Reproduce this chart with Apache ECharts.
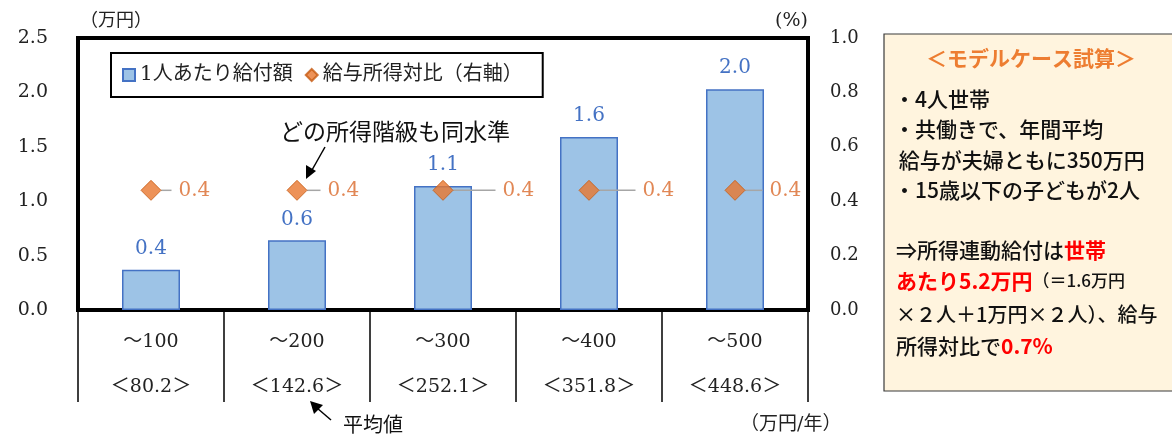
<!DOCTYPE html>
<html><head><meta charset="utf-8">
<script src="https://cdn.jsdelivr.net/npm/echarts@6/dist/echarts.min.js"></script>
<style>html,body{margin:0;padding:0;background:#fff}#c{width:1172px;height:437px}</style>
</head><body><div id="c"></div>
<script>
const categories = ['～100', '～200', '～300', '～400', '～500'];
const averages = ['80.2', '142.6', '252.1', '351.8', '448.6'];
const perPerson = [0.37, 0.64, 1.14, 1.59, 2.03];
const ratio = [0.44, 0.44, 0.44, 0.44, 0.44];
const seriesNames = ['1人あたり給付額', '給与所得対比（右軸）'];
const labelShift = [5, 8, 37, 31, 12];

const SERIF = '"DejaVu Serif", "Noto Sans CJK JP", serif';
const GOTH = '"Noto Sans CJK JP", sans-serif';

const chart = echarts.init(document.getElementById('c'), null, {renderer: 'canvas'});

function txt(x, y, rich, parts, extra) {
  return Object.assign({
    type: 'text', x: x, y: y,
    style: {text: parts, rich: rich, verticalAlign: 'middle', font: '21px ' + GOTH, fill: '#111'}
  }, extra || {});
}
const boxRich = {
  n: {fontSize: 21, fontFamily: GOTH, fill: '#111', fontWeight: 500},
  m: {fontSize: 20, fontFamily: GOTH, fill: '#111', fontWeight: 500},
  r: {fontSize: 21, fontFamily: GOTH, fill: '#FF0000', fontWeight: 'bold'},
  s: {fontSize: 17, fontFamily: GOTH, fill: '#111', fontWeight: 500}
};

const option = {
  animation: false,
  grid: {left: 78, right: 364, top: 38, bottom: 127, show: true, borderColor: '#000', borderWidth: 4, backgroundColor: 'transparent'},
  legend: {
    left: 111, top: 53, padding: [12, 20, 12, 11],
    borderColor: '#000', borderWidth: 2, itemGap: 12,
    itemWidth: 12, itemHeight: 12,
    data: [{name: seriesNames[0], icon: 'rect'}, {name: seriesNames[1], icon: 'diamond'}],
    formatter: function (name) { return name === seriesNames[0] ? '{a|' + name + '}' : '{b|' + name + '}'; },
    textStyle: {
      fontSize: 20, fontFamily: SERIF, color: '#222',
      rich: {a: {width: 165, fontSize: 20, fontFamily: SERIF, color: '#222'},
             b: {width: 200, fontSize: 20, fontFamily: SERIF, color: '#222'}}
    }
  },
  xAxis: {
    type: 'category', data: categories,
    axisLine: {show: true, lineStyle: {color: '#000', width: 4}},
    axisTick: {show: true, length: 92, lineStyle: {color: '#000', width: 1.5}},
    axisLabel: {
      margin: 10, interval: 0,
      formatter: function (v, i) { return '{a|' + v + '}\n{a|＜' + averages[i] + '＞}'; },
      rich: {a: {fontSize: 19, fontFamily: SERIF, color: '#222', lineHeight: 45}}
    }
  },
  yAxis: [
    {type: 'value', min: 0, max: 2.5, interval: 0.5,
     axisLine: {show: false}, axisTick: {show: false}, splitLine: {show: false},
     axisLabel: {margin: 30, fontSize: 19, fontFamily: SERIF, color: '#222', formatter: v => v.toFixed(1)}},
    {type: 'value', min: 0, max: 1, interval: 0.2,
     axisLine: {show: false}, axisTick: {show: false}, splitLine: {show: false},
     axisLabel: {margin: 22, fontSize: 18, fontFamily: SERIF, color: '#222', formatter: v => v.toFixed(1)}}
  ],
  series: [
    {
      name: seriesNames[0], type: 'bar', data: perPerson, barWidth: 58,
      itemStyle: {color: '#9DC3E6', borderColor: '#4472C4', borderWidth: 1.5},
      label: {show: true, position: 'top', distance: 11, fontSize: 20, fontFamily: SERIF, color: '#4472C4',
              formatter: p => p.value.toFixed(1)}
    },
    {
      name: seriesNames[1], type: 'scatter', yAxisIndex: 1, data: ratio,
      symbol: 'diamond', symbolSize: 20,
      itemStyle: {color: '#E8772E', borderColor: '#C55A11', borderWidth: 1},
      label: {show: true, position: 'right', distance: 5,
              formatter: p => '{g|}{v|' + p.value.toFixed(1) + '}',
              rich: {g: {width: 7}, v: {fontSize: 20, fontFamily: SERIF, color: '#D9692A'}}},
      labelLine: {show: true, lineStyle: {color: '#A6A6A6', width: 1.5}},
      labelLayout: function (params) { return {dx: labelShift[params.dataIndex]}; }
    }
  ],
  graphic: [
    txt(80, 21, null, '', {style: {text: '（万円）', font: '18px ' + SERIF, fill: '#222', verticalAlign: 'middle'}}),
    txt(808, 21, null, '', {style: {text: '(%)', font: '19px ' + SERIF, fill: '#222', verticalAlign: 'middle', align: 'right'}}),
    txt(280, 134, null, '', {style: {text: 'どの所得階級も同水準', font: '23px ' + SERIF, fill: '#111', verticalAlign: 'middle'}}),
    {type: 'line', shape: {x1: 325, y1: 147, x2: 312, y2: 170}, style: {stroke: '#000', lineWidth: 1.5}},
    {type: 'polygon', shape: {points: [[306, 179], [306, 165], [316, 171]]}, style: {fill: '#000'}},
    txt(343, 427, null, '', {style: {text: '平均値', font: '20px ' + SERIF, fill: '#111', verticalAlign: 'middle'}}),
    {type: 'line', shape: {x1: 331, y1: 420, x2: 317, y2: 408}, style: {stroke: '#000', lineWidth: 1.5}},
    {type: 'polygon', shape: {points: [[310, 401], [323, 405], [314, 414]]}, style: {fill: '#000'}},
    txt(740, 425, null, '', {style: {text: '（万円/年）', font: '19px ' + SERIF, fill: '#222', verticalAlign: 'middle'}}),
    {type: 'rect', shape: {x: 884, y: 34, width: 300, height: 357},
     style: {fill: '#FFF4DE', stroke: '#3a3a3a', lineWidth: 1.2}},
    txt(1031, 58, null, '', {style: {text: '＜モデルケース試算＞', font: 'bold 21px ' + GOTH, fill: '#ED7D31', verticalAlign: 'middle', align: 'center'}}),
    txt(894, 99, boxRich, '{n|・4人世帯}'),
    txt(894, 129, boxRich, '{n|・共働きで、年間平均}'),
    txt(894, 160, boxRich, '{n| 給与が夫婦ともに350万円}'),
    txt(894, 190, boxRich, '{n|・15歳以下の子どもが2人}'),
    txt(896, 250, boxRich, '{n|⇒所得連動給付は}{r|世帯}'),
    txt(896, 281, boxRich, '{r|あたり5.2万円}{s|（＝1.6万円}'),
    txt(896, 314, boxRich, '{m|×２人＋1万円×２人）、給与}'),
    txt(896, 346, boxRich, '{n|所得対比で}{r|0.7%}')
  ]
};
chart.setOption(option);
</script>
</body></html>
